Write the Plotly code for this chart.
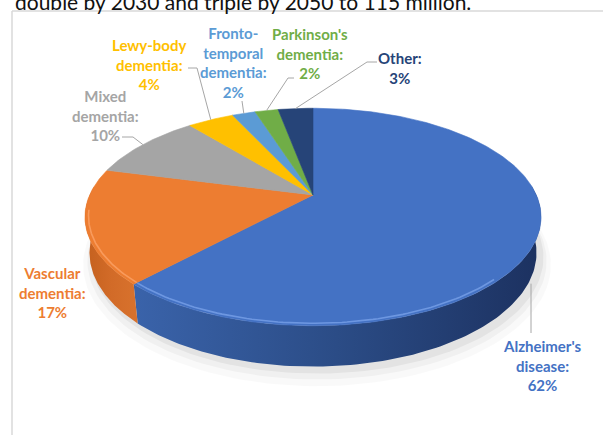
import numpy as np
import plotly.graph_objects as go

# ---------------- data ----------------
categories = ["Alzheimer's disease", "Vascular dementia", "Mixed dementia",
              "Lewy-body dementia", "Fronto-temporal dementia",
              "Parkinson's dementia", "Other"]
values = [62, 17, 10, 4, 2, 2, 3]
label_lines = [["Alzheimer's", "disease:"], ["Vascular", "dementia:"],
               ["Mixed", "dementia:"], ["Lewy-body", "dementia:"],
               ["Fronto-", "temporal", "dementia:"],
               ["Parkinson's", "dementia:"], ["Other:"]]
header_text = "double by 2030 and triple by 2050 to 115 million."

# ---------------- style ----------------
top_colors = ["#4472C4", "#ED7D31", "#A5A5A5", "#FFC000", "#5B9BD5", "#70AD47", "#264478"]
side_grad = [["#3A63AA", "#2B4C86", "#1C3160"], ["#C4601E", "#D26B28", "#D8722D"],
             ["#8A8A8A", "#8A8A8A"], ["#D9A300", "#D9A300"], ["#4A85BD", "#4A85BD"],
             ["#5E9439", "#5E9439"], ["#1E3862", "#1E3862"]]
text_colors = ["#4472C4", "#ED7D31", "#A5A5A5", "#FFC000", "#5B9BD5", "#70AD47", "#264478"]
# label block centres (pixels) and leader elbows (pixels)
label_pos = [(542, 365), (52, 292), (105, 115), (149, 64), (233, 62), (310, 53), (400, 68)]
leader_pts = [[(531, 333)], None, [(122, 137), (133, 137)], [(188, 68), (197, 68)],
              [(242, 101)], [(294, 78), (288, 78)], [(377, 62), (367, 62)]]
leader_z = [True, False, False, False, False, False, False]

W, H = 603, 435
CX, CY = 313, 195
F, D = 976.0, 4.37
S_T = 0.467
C_T = np.sqrt(1 - S_T ** 2)
DEPTH = 0.182


def proj(theta_deg, r=1.0, z=0.0):
    t = np.radians(np.asarray(theta_deg, dtype=float))
    X = r * np.sin(t)
    Y = -r * np.cos(t)
    dep = D - (Y * C_T + z * S_T)
    xs = CX + X * F / dep
    ys = CY - (-Y * S_T + z * C_T) * F / dep
    return xs, ys


total = float(sum(values))
cum = np.concatenate([[0], np.cumsum(values)]) / total * 360.0

fig = go.Figure()

# shadow
for k, (r, dz, a) in enumerate([(1.05, 0.05, 0.025), (1.03, 0.035, 0.035), (1.015, 0.02, 0.05)]):
    th = np.linspace(0, 360, 200)
    x, y = proj(th, r, -DEPTH - dz)
    fig.add_trace(go.Scatter(x=x + 4, y=y, mode="lines", fill="toself",
                             fillcolor=f"rgba(0,0,0,{a})", line=dict(width=0),
                             hoverinfo="skip", showlegend=False))

# side walls (front part)
for i in range(len(values)):
    a0, a1 = max(cum[i], 85), min(cum[i + 1], 275)
    if a1 <= a0:
        continue
    th = np.linspace(a0, a1, 120)
    xt, yt = proj(th, 1, 0)
    xb, yb = proj(th, 1, -DEPTH)
    xs = np.concatenate([xt, xb[::-1], xt[:1]])
    ys = np.concatenate([yt, yb[::-1], yt[:1]])
    g = side_grad[i]
    cs = [[j / (len(g) - 1), col] for j, col in enumerate(g)]
    fig.add_trace(go.Scatter(x=xs, y=ys, mode="lines", fill="toself",
                             fillgradient=dict(type="horizontal", colorscale=cs),
                             line=dict(width=0), hoverinfo="skip", showlegend=False))

# top faces
for i in range(len(values)):
    th = np.linspace(cum[i], cum[i + 1], max(8, int(values[i] * 4)))
    x, y = proj(th, 1, 0)
    xs = np.concatenate([[CX], x, [CX]])
    ys = np.concatenate([[CY], y, [CY]])
    fig.add_trace(go.Scatter(x=xs, y=ys, mode="lines", fill="toself",
                             fillcolor=top_colors[i],
                             line=dict(width=0.6, color=top_colors[i]),
                             hoverinfo="skip", showlegend=False))

# bevel highlight on front rim
hl = ["rgba(120,160,232,0.8)", "rgba(250,160,100,0.85)"]
hl_range = [(135, 223), (223, 262)]
for i in range(2):
    a0, a1 = max(cum[i], hl_range[i][0]), min(cum[i + 1], hl_range[i][1])
    if a1 <= a0:
        continue
    th = np.linspace(a0, a1, 80)
    x, y = proj(th, 0.985, 0)
    fig.add_trace(go.Scatter(x=x, y=y, mode="lines", line=dict(width=1.6, color=hl[i]),
                             hoverinfo="skip", showlegend=False))

# leader lines
for i in range(len(values)):
    if leader_pts[i] is None:
        continue
    mid = (cum[i] + cum[i + 1]) / 2
    ax, ay = proj(mid, 1, -DEPTH if leader_z[i] else 0)
    if leader_z[i]:
        ax = leader_pts[i][0][0]
        ay = float(ay) + 10
    px = [p[0] for p in leader_pts[i]] + [float(ax)]
    py = [p[1] for p in leader_pts[i]] + [float(ay)]
    fig.add_trace(go.Scatter(x=px, y=py, mode="lines", line=dict(width=1, color="#A6A6A6"),
                             hoverinfo="skip", showlegend=False))

annotations = []
for i in range(len(values)):
    txt = "<br>".join(label_lines[i] + [f"{values[i]}%"])
    annotations.append(dict(x=label_pos[i][0], y=label_pos[i][1], xref="x", yref="y",
                            text=txt, showarrow=False, xanchor="center", yanchor="middle",
                            align="center",
                            font=dict(family="Lato", size=15, color=text_colors[i], weight="bold")))
annotations.append(dict(x=13, y=16, xref="x", yref="y", text=header_text, showarrow=False,
                        xanchor="left", yanchor="bottom",
                        font=dict(family="Lato", size=21, color="#111111")))

fig.update_layout(
    width=W, height=H, margin=dict(l=0, r=0, t=0, b=0),
    paper_bgcolor="white", plot_bgcolor="white",
    xaxis=dict(range=[0, W], visible=False, fixedrange=True),
    yaxis=dict(range=[H, 0], visible=False, fixedrange=True),
    annotations=annotations, showlegend=False,
    shapes=[dict(type="line", xref="x", yref="y", x0=12, x1=12, y0=11, y1=H,
                 line=dict(color="#D9D9D9", width=1.5)),
            dict(type="line", xref="x", yref="y", x0=12, x1=W, y0=11, y1=11,
                 line=dict(color="#D9D9D9", width=1.5))],
)

fig.write_html("out.html", config={"displayModeBar": False},
               post_script="document.body.style.margin='0px';document.body.style.overflow='hidden';")
